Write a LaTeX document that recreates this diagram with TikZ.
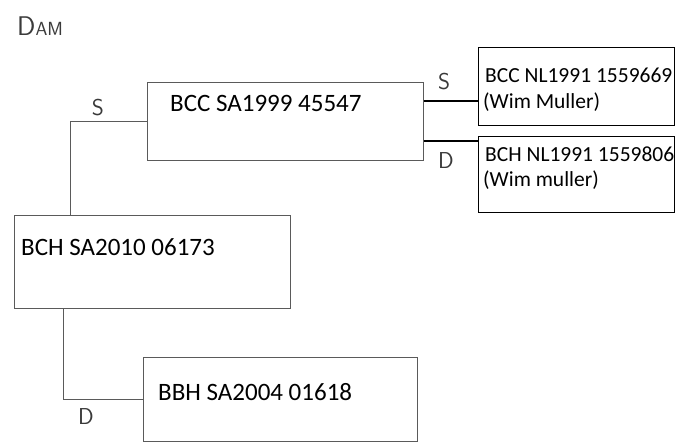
\documentclass[tikz,border=0pt]{standalone}
\usepackage{fontspec}
\setmainfont{Carlito}
\usetikzlibrary{positioning,calc}
\definecolor{pencil}{HTML}{5A5A5A}
\definecolor{lead}{HTML}{3A3A3A}
\tikzset{
  handbox/.style={rectangle, draw=pencil, line width=0.9pt,
    inner sep=0pt, anchor=north west},
  inkbox/.style={rectangle, draw=black, line width=1.4pt,
    inner sep=0pt, anchor=north west},
  handline/.style={draw=pencil, line width=0.9pt},
  inkline/.style={draw=black, line width=1.4pt},
  dogname/.style={anchor=base west, inner sep=0pt,
    font=\fontsize{25}{30}\selectfont},
  ownername/.style={anchor=base west, inner sep=0pt,
    font=\fontsize{21.5}{26}\selectfont},
  sexmark/.style={font=\sffamily\fontsize{23}{25}\selectfont,
    text=lead, inner sep=0pt},
}

\begin{document}
\begin{tikzpicture}[x=1pt, y=-1pt]
  \useasboundingbox (0,0) rectangle (675,443);
  \node[anchor=base west, inner sep=0pt, text=lead,
    font=\sffamily\fontsize{27}{29}\selectfont] (title) at (17,36)
    {D\fontsize{19}{21}\selectfont AM};
  % boxes
  \node[handbox, minimum width=276pt, minimum height=78pt] (bcc) at (147,82) {};
  \node[handbox, minimum width=276pt, minimum height=93pt] (bch) at (14,215) {};
  \node[handbox, minimum width=274pt, minimum height=84pt] (bbh) at (143,357) {};
  \node[inkbox, minimum width=196pt, minimum height=78pt] (sire) at (478,47) {};
  \node[inkbox, minimum width=196pt, minimum height=76pt] (dam) at (478,136) {};
  % texts
  \node[dogname] (bcctxt) at (170,112) {BCC SA1999 45547};
  \node[dogname] (bchtxt) at (21,256) {BCH SA2010 06173};
  \node[dogname] (bbhtxt) at (158,401) {BBH SA2004 01618};
  \node[ownername] (siretxt) at (485,83) {BCC NL1991 1559669};
  \node[ownername] (sireowner) at (483,109) {(Wim Muller)};
  \node[ownername] (damtxt) at (485,162) {BCH NL1991 1559806};
  \node[ownername] (damowner) at (483,187) {(Wim muller)};
  % connectors
  \draw[handline] (bcc.west) -| ($(bch.north west)+(56,0)$);
  \draw[handline] ($(bch.south west)+(49,0)$) |- (bbh.west);
  \draw[inkline] ($(bcc.north east)+(0,19)$) coordinate (s1) -- (s1 -| sire.west);
  \draw[inkline] ($(bcc.south east)+(0,-20)$) coordinate (d1) -- (d1 -| dam.west);
  % sex marks
  \node[sexmark] (s0) at (98,108) {S};
  \node[sexmark] (d0) at (86,417) {D};
  \node[sexmark] (s2) at (444,82) {S};
  \node[sexmark] (d2) at (446,161) {D};
\end{tikzpicture}
\end{document}
